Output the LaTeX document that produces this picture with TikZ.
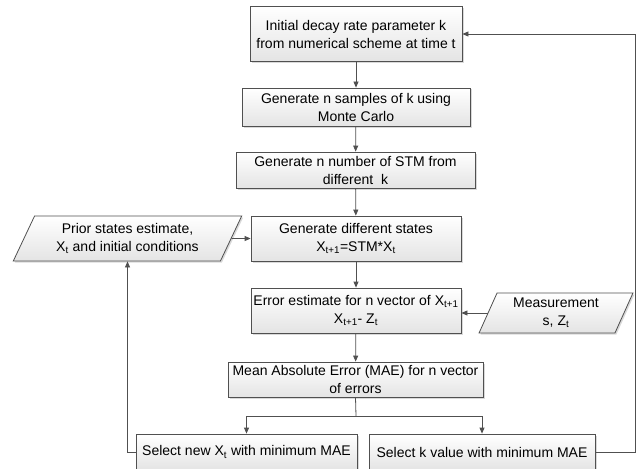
\documentclass[tikz,border=0pt]{standalone}
\usepackage{fontspec}
\setmainfont{Liberation Sans}
\usepackage{tikz}
\usetikzlibrary{arrows.meta, shapes.geometric, shadows}
\definecolor{linegray}{HTML}{505050}
\definecolor{boxgray}{HTML}{E4E4E4}

\tikzset{
  procbox/.style={draw=linegray, line width=0.8pt, top color=white, bottom color=boxgray,
    align=center, inner sep=2pt, font=\fontsize{14}{18}\selectfont,
    drop shadow={shadow xshift=1.5pt, shadow yshift=-1.5pt, opacity=.3}},
  iobox/.style={procbox, trapezium, trapezium stretches=true},
  flow/.style={draw=linegray, line width=0.8pt, -{Triangle[length=6pt,width=5pt]}},
  link/.style={draw=linegray, line width=0.8pt},
}

\begin{document}
\begin{tikzpicture}[x=1pt,y=-1pt]
\useasboundingbox (0,0) rectangle (636,468);
%
% main column
\node[procbox, minimum width=212pt, minimum height=55pt] (init) at (356,34) {Initial decay rate parameter k\\from numerical scheme at time t};
\node[procbox, minimum width=228pt, minimum height=38pt] (samples) at (356,107) {Generate n samples of k using\\Monte Carlo};
\node[procbox, minimum width=239pt, minimum height=36pt] (stm) at (355.5,170) {Generate n number of STM from\\different\ \ k};
\node[procbox, minimum width=210pt, minimum height=45pt] (states) at (356,238.5) {Generate different states\\X\textsubscript{t+1}=STM*X\textsubscript{t}};
\node[procbox, minimum width=210pt, minimum height=45pt] (error) at (356,310.5) {Error estimate for n vector of X\textsubscript{t+1}\\X\textsubscript{t+1}- Z\textsubscript{t}};
\node[procbox, minimum width=255pt, minimum height=35pt] (mae) at (355.5,379.5) {Mean Absolute Error (MAE) for n vector\\of errors};
\node[procbox, minimum width=221pt, minimum height=36pt] (selx) at (246.5,452) {Select new X\textsubscript{t} with minimum MAE};
\node[procbox, minimum width=226pt, minimum height=36pt] (selk) at (482,452) {Select k value with minimum MAE};
%
% inputs
\node[iobox, trapezium left angle=64, trapezium right angle=116, minimum width=229pt, minimum height=45pt] (prior) at (127.5,238.5) {Prior states estimate,\\X\textsubscript{t} and initial conditions};
\node[iobox, trapezium left angle=68, trapezium right angle=112, minimum width=154pt, minimum height=40pt] (meas) at (556,313) {Measurement\\s, Z\textsubscript{t}};
%
\coordinate (split) at (356,416);
\coordinate (rturn) at (635,240);

\draw[flow] (init) -- (samples);
\draw[flow] (samples) -- (stm);
\draw[flow] (stm) -- (states);
\draw[flow] (states) -- (error);
\draw[flow] (error) -- (mae);
\draw[flow] (prior.east) -- (states.west);
\draw[flow] (meas.west) -- (error.east |- meas.west);
%
\draw[link] (mae.south) -- (split);
\draw[flow] (split) -| (selx.north);
\draw[flow] (split) -| (selk.north);
%
\draw[flow] (selx.west) -| (prior.south);
\draw[flow] (selk.east) -| (rturn) |- (init.east);
\end{tikzpicture}
\end{document}
